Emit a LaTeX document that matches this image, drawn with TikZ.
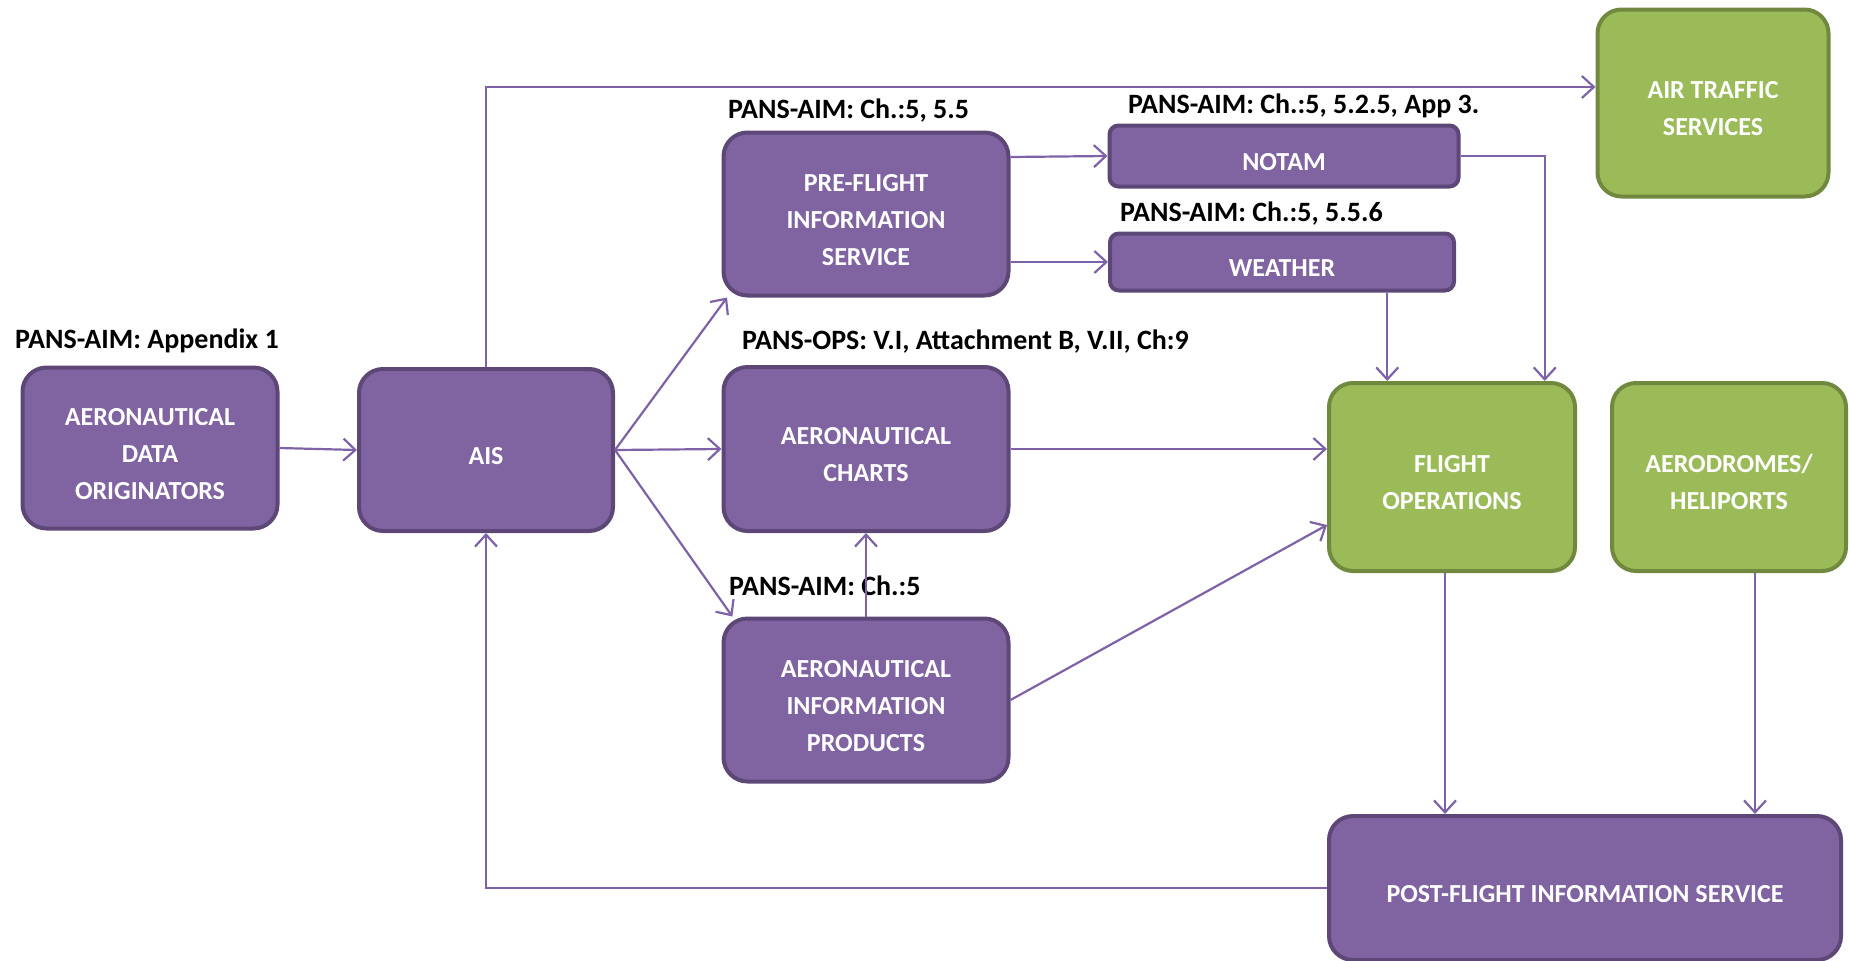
\documentclass[tikz,border=0pt]{standalone}
\usepackage{fontspec}
\setmainfont{Carlito}
\usetikzlibrary{arrows.meta,calc}
\definecolor{pfill}{HTML}{8064A2}
\definecolor{pdraw}{HTML}{5C4776}
\definecolor{gfill}{HTML}{9BBB59}
\definecolor{gdraw}{HTML}{71893F}
\definecolor{arrc}{HTML}{7E62A8}
\newcommand{\bt}[1]{\raisebox{-7pt}[\height][\depth]{\begin{tabular}{@{}c@{}}#1\end{tabular}}}
\begin{document}
\begin{tikzpicture}[x=1pt,y=-1pt,
  box/.style={draw=pdraw,fill=pfill,line width=4pt,rounded corners=24pt,
    text=white,font=\bfseries\fontsize{26}{37}\selectfont,align=center,inner sep=0pt},
  gbox/.style={box,draw=gdraw,fill=gfill},
  flat/.style={box,rounded corners=9pt},
  lab/.style={anchor=west,inner sep=0pt,font=\bfseries\fontsize{28}{32}\selectfont,text=black},
  arr/.style={draw=arrc,line width=2.2pt,-{Straight Barb[length=12pt,width=22pt,line width=2.2pt]}},
  ln/.style={draw=arrc,line width=2.2pt}]
\useasboundingbox (0,0) rectangle (1850,961);

% boxes
\node[box,minimum width=255pt,minimum height=161pt] (ado) at (150,448) {\bt{AERONAUTICAL\\DATA\\ORIGINATORS}};
\node[box,minimum width=254pt,minimum height=162pt] (ais) at (486,450) {\bt{AIS}};
\node[box,minimum width=285pt,minimum height=163pt] (pfis) at (866,214) {\bt{PRE-FLIGHT\\INFORMATION\\SERVICE}};
\node[flat,minimum width=349pt,minimum height=61pt] (notam) at (1284,156) {\bt{NOTAM}};
\node[flat,minimum width=344pt,minimum height=57pt] (weather) at (1282,262) {\bt{WEATHER}};
\node[box,minimum width=285pt,minimum height=164pt] (ac) at (866,449) {\bt{AERONAUTICAL\\CHARTS}};
\node[box,minimum width=285pt,minimum height=163pt] (aip) at (866,700) {\bt{AERONAUTICAL\\INFORMATION\\PRODUCTS}};
\node[gbox,minimum width=231pt,minimum height=187pt] (ats) at (1713,103) {\bt{AIR TRAFFIC\\SERVICES}};
\node[gbox,minimum width=246pt,minimum height=188pt] (fo) at (1452,477) {\bt{FLIGHT\\OPERATIONS}};
\node[gbox,minimum width=234pt,minimum height=188pt] (ah) at (1729,477) {\bt{AERODROMES/\\HELIPORTS}};
\node[box,minimum width=512pt,minimum height=144pt] (post) at (1585,888) {\bt{POST-FLIGHT INFORMATION SERVICE}};

% labels
\node[lab] (l1) at (15,341) {PANS-AIM: Appendix 1};
\node[lab] (l2) at (728,111) {PANS-AIM: Ch.:5, 5.5};
\node[lab] (l3) at (1128,106) {PANS-AIM: Ch.:5, 5.2.5, App 3.};
\node[lab] (l4) at (1120,214) {PANS-AIM: Ch.:5, 5.5.6};
\node[lab] (l5) at (742,342) {PANS-OPS: V.I, Attachment B, V.II, Ch:9};
\node[lab] (l6) at (729,586) {PANS-AIM: Ch.:5};

% connectors
\draw[arr] (ado.east) -- (ais.west);
\draw[arr] (ais.north) |- ([yshift=16pt]ats.west);
\draw[arr] (ais.east) -- (pfis.211);
\draw[arr] (ais.east) -- (ac.west);
\draw[arr] (ais.east) -- (aip.148);
\draw[arr] ([yshift=57pt]pfis.east) -- (notam.west);
\draw[arr] ([yshift=-48pt]pfis.east) -- (weather.west);
\draw[arr] (notam.east) -| (fo.46);
\draw[arr] (weather.south -| fo.124) -- (fo.124);
\draw[arr] (ac.east) -- (ac.east -| fo.west);
\draw[arr] (aip.east) -- (fo.201);
\draw[arr] (aip.north) -- (ac.south);
\draw[arr] ([xshift=-7pt]fo.south) -- ([xshift=-7pt]fo.south |- post.north);
\draw[arr] ([xshift=26pt]ah.south) -- ([xshift=26pt]ah.south |- post.north);
\draw[arr] (post.west) -| (ais.south);
\end{tikzpicture}
\end{document}
